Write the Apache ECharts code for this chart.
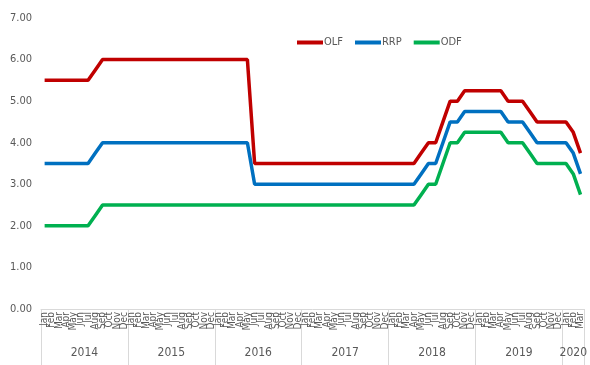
<!DOCTYPE html>
<html>
<head>
<meta charset="utf-8">
<script src="https://cdn.jsdelivr.net/npm/echarts@6/dist/echarts.min.js"></script>
<style>
  html, body { margin: 0; padding: 0; background: #fff; }
  #chart { width: 590px; height: 365px; }
</style>
</head>
<body>
<div id="chart"></div>
<script>
const MONTHS = ['Jan', 'Feb', 'Mar', 'Apr', 'May', 'Jun', 'Jul', 'Aug', 'Sep', 'Oct', 'Nov', 'Dec']
const YEARS = ['2014', '2015', '2016', '2017', '2018', '2019', '2020']
const MONTHS_PER_YEAR = [12, 12, 12, 12, 12, 12, 3]

// policy rates, Jan 2014 .. Mar 2020
const OLF = [
  5.5, 5.5, 5.5, 5.5, 5.5, 5.5, 5.5, 5.75, 6, 6, 6, 6,
  6, 6, 6, 6, 6, 6, 6, 6, 6, 6, 6, 6,
  6, 6, 6, 6, 6, 3.5, 3.5, 3.5, 3.5, 3.5, 3.5, 3.5,
  3.5, 3.5, 3.5, 3.5, 3.5, 3.5, 3.5, 3.5, 3.5, 3.5, 3.5, 3.5,
  3.5, 3.5, 3.5, 3.5, 3.75, 4, 4, 4.5, 5, 5, 5.25, 5.25,
  5.25, 5.25, 5.25, 5.25, 5, 5, 5, 4.75, 4.5, 4.5, 4.5, 4.5,
  4.5, 4.25, 3.75,
]
const RRP = [
  3.5, 3.5, 3.5, 3.5, 3.5, 3.5, 3.5, 3.75, 4, 4, 4, 4,
  4, 4, 4, 4, 4, 4, 4, 4, 4, 4, 4, 4,
  4, 4, 4, 4, 4, 3, 3, 3, 3, 3, 3, 3,
  3, 3, 3, 3, 3, 3, 3, 3, 3, 3, 3, 3,
  3, 3, 3, 3, 3.25, 3.5, 3.5, 4, 4.5, 4.5, 4.75, 4.75,
  4.75, 4.75, 4.75, 4.75, 4.5, 4.5, 4.5, 4.25, 4, 4, 4, 4,
  4, 3.75, 3.25,
]
const ODF = [
  2, 2, 2, 2, 2, 2, 2, 2.25, 2.5, 2.5, 2.5, 2.5,
  2.5, 2.5, 2.5, 2.5, 2.5, 2.5, 2.5, 2.5, 2.5, 2.5, 2.5, 2.5,
  2.5, 2.5, 2.5, 2.5, 2.5, 2.5, 2.5, 2.5, 2.5, 2.5, 2.5, 2.5,
  2.5, 2.5, 2.5, 2.5, 2.5, 2.5, 2.5, 2.5, 2.5, 2.5, 2.5, 2.5,
  2.5, 2.5, 2.5, 2.5, 2.75, 3, 3, 3.5, 4, 4, 4.25, 4.25,
  4.25, 4.25, 4.25, 4.25, 4, 4, 4, 3.75, 3.5, 3.5, 3.5, 3.5,
  3.5, 3.25, 2.75,
]

const FONT = "'Liberation Sans Narrow', 'DejaVu Sans Condensed', sans-serif"
const GREY = '#595959'

// month labels and year boundaries for the two-level category axis
const monthLabels = []
const yearEdges = [0]
const yearMids = []
MONTHS_PER_YEAR.forEach((n) => {
  for (let m = 0; m < n; m++) monthLabels.push(MONTHS[m])
  const start = yearEdges[yearEdges.length - 1]
  yearMids.push(start + n / 2)
  yearEdges.push(start + n)
})
const total = yearEdges[yearEdges.length - 1]

const chart = echarts.init(document.getElementById('chart'), null, { renderer: 'canvas' })

const mkSeries = (name, data, color) => ({
  name,
  type: 'line',
  data,
  symbol: 'none',
  lineStyle: { color, width: 3.5 },
  itemStyle: { color },
  xAxisIndex: 0,
})

chart.setOption({
  animation: false,
  textStyle: { fontFamily: FONT },
  legend: {
    left: 292,
    top: 32,
    icon: 'rect',
    itemWidth: 26,
    itemHeight: 4,
    itemGap: 12,
    textStyle: { color: GREY, fontSize: 11, fontFamily: FONT, padding: [0, 0, 0, -4] },
    data: ['OLF', 'RRP', 'ODF'],
  },
  grid: { left: 41, right: 2, top: 18, bottom: 56 },
  xAxis: [
    {
      type: 'category',
      data: monthLabels,
      boundaryGap: true,
      axisLine: { lineStyle: { color: '#d9d9d9' } },
      axisTick: { show: false },
      axisLabel: {
        interval: 0,
        rotate: 90,
        margin: 3,
        color: GREY,
        fontSize: 10,
        fontFamily: FONT,
      },
    },
    {
      type: 'value',
      position: 'bottom',
      min: 0,
      max: total,
      offset: 56,
      axisLine: { show: false },
      splitLine: { show: false },
      axisTick: {
        show: true,
        inside: true,
        length: 56,
        customValues: yearEdges,
        lineStyle: { color: '#d9d9d9' },
      },
      axisLabel: {
        inside: true,
        margin: 6,
        customValues: yearMids,
        formatter: (v) => YEARS[yearMids.indexOf(v)] || '',
        color: GREY,
        fontSize: 12,
        fontFamily: FONT,
      },
    },
  ],
  yAxis: {
    type: 'value',
    min: 0,
    max: 7,
    interval: 1,
    axisLine: { show: false },
    axisTick: { show: false },
    splitLine: { show: false },
    axisLabel: {
      color: GREY,
      fontSize: 11,
      fontFamily: FONT,
      margin: 9,
      formatter: (v) => v.toFixed(2),
    },
  },
  series: [
    mkSeries('OLF', OLF, '#c00000'),
    mkSeries('RRP', RRP, '#0070c0'),
    mkSeries('ODF', ODF, '#00b050'),
  ],
})
</script>
</body>
</html>
